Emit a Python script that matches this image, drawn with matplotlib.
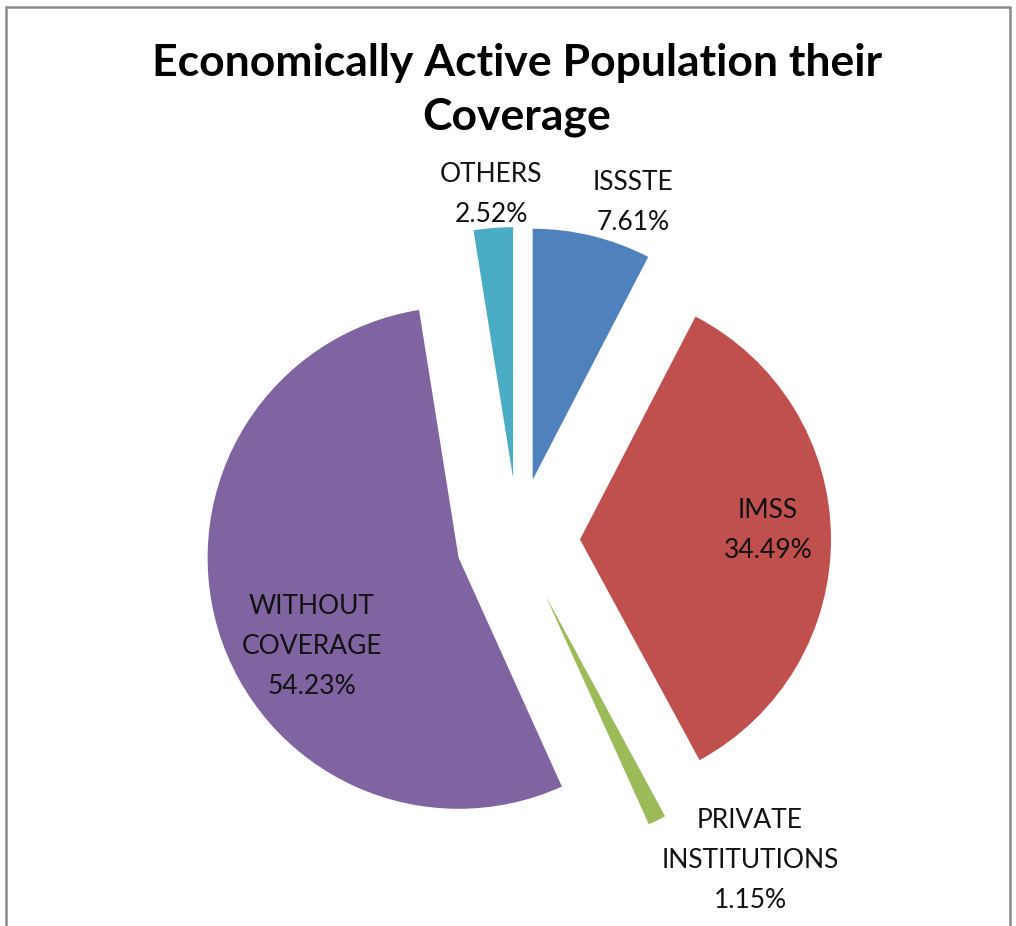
import matplotlib
matplotlib.use("Agg")
import matplotlib.pyplot as plt
from matplotlib.patches import Rectangle

# data
categories = ["ISSSTE", "IMSS", "PRIVATE\nINSTITUTIONS", "WITHOUT\nCOVERAGE", "OTHERS"]
shares = [7.61, 34.49, 1.15, 54.23, 2.52]
colors = ["#4F81BD", "#C0504D", "#9BBB59", "#8064A2", "#4BACC6"]

# label anchor points (pixels from top-left of the image)
label_pos = [(633, 202), (768, 531), (750, 861), (312, 647), (491, 194)]

W, H = 1016, 926
fig = plt.figure(figsize=(W / 100, H / 100), dpi=100)
ax = fig.add_axes([0, 0, 1, 1])

R = 251
# explode is in data units here (pixels)
ax.pie(shares, colors=colors, radius=R, center=(518, H - 540),
       startangle=90, counterclock=False, explode=[62] * 5,
       wedgeprops=dict(linewidth=0), frame=True)
ax.set_xlim(0, W)
ax.set_ylim(0, H)
ax.set_aspect("equal")
ax.axis("off")

for cat, val, (x, y) in zip(categories, shares, label_pos):
    ax.text(x, H - y, f"{cat}\n{val:.2f}%", ha="center", va="center",
            fontsize=19, family="Lato", color="#111111", linespacing=1.75)

ax.text(517, H - 90, "Economically Active Population their\nCoverage",
        ha="center", va="center", fontsize=32, family="Lato",
        fontweight="bold", color="black", linespacing=1.4)

# chart border
ax.add_patch(Rectangle((6, -10), 1004, H - 7 + 10, fill=False,
                       edgecolor="#8a8a8a", linewidth=1.8))

fig.savefig("out.png", dpi=100)
